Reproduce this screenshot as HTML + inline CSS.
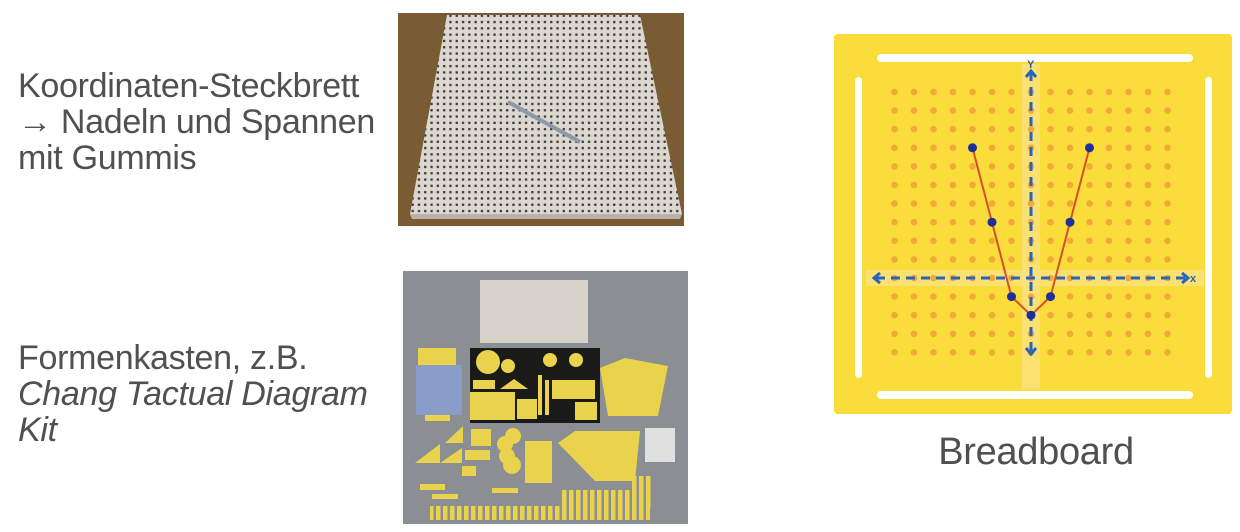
<!DOCTYPE html>
<html><head><meta charset="utf-8"><style>
html,body{margin:0;padding:0;background:#fff;}
body{width:1240px;height:532px;position:relative;overflow:hidden;font-family:"Liberation Sans",sans-serif;}
.t{position:absolute;left:18px;color:#505050;font-size:34px;line-height:36px;letter-spacing:-0.3px;}
svg{position:absolute;left:0;top:0;}
</style></head><body>
<div class="t" style="top:68px">Koordinaten-Steckbrett<br>→ Nadeln und Spannen<br>mit Gummis</div>
<div class="t" style="top:340px">Formenkasten, z.B.<br><i>Chang Tactual Diagram<br>Kit</i></div>
<div class="t" style="left:0;width:2072px;top:434px;font-size:38px;text-align:center;">Breadboard</div>

<svg width="1240" height="532" id="s">
<defs>
<pattern id="holes" width="6.3" height="6.3" patternUnits="userSpaceOnUse"><rect width="6.3" height="6.3" fill="#dcd8d0"/><rect x="2" y="2" width="2.3" height="2.3" fill="#3a3a3a"/></pattern>
<pattern id="sticks" width="7" height="30" patternUnits="userSpaceOnUse"><rect width="7" height="30" fill="#8b8e92"/><rect x="1" width="4.5" height="30" fill="#e9d24c"/></pattern>
</defs>
<g>
<rect x="398" y="13" width="286" height="213" fill="#7a5c34"/>
<polygon points="447,15 640,15 682,214 410,214" fill="url(#holes)"/>
<polygon points="410,214 682,214 680,219 412,219" fill="#b8b2a8"/>
<line x1="508" y1="102" x2="580" y2="142" stroke="#8a9aa8" stroke-width="4"/>
</g>
<g transform="translate(400,268)">
<rect x="3" y="3" width="285" height="253" fill="#8b8e92"/>
<rect x="80" y="12" width="108" height="63" fill="#d6d2ca"/>
<rect x="70" y="80" width="130" height="75" fill="#1a1a18"/>
<g fill="#e9d24c">
<circle cx="88" cy="94" r="12"/><circle cx="108" cy="98" r="7"/>
<rect x="73" y="112" width="22" height="9"/><polygon points="100,121 128,121 114,111"/>
<rect x="70" y="124" width="45" height="28"/><rect x="117" y="131" width="20" height="20"/>
<rect x="152" y="112" width="43" height="19"/><rect x="175" y="134" width="22" height="18"/>
<rect x="138" y="107" width="4" height="40"/><rect x="145" y="112" width="4" height="35"/>
<circle cx="150" cy="92" r="7"/><circle cx="176" cy="92" r="7"/>
<rect x="18" y="80" width="38" height="20"/>
<rect x="25" y="147" width="25" height="6"/>
<polygon points="200,100 225,90 268,98 258,148 208,148"/>
<polygon points="158,175 175,163 240,163 235,213 195,213"/>
<rect x="125" y="173" width="27" height="42"/>
<polygon points="15,195 40,176 40,195"/><polygon points="45,175 63,158 63,175"/><polygon points="40,195 62,180 62,195"/>
<rect x="71" y="161" width="20" height="17"/><rect x="65" y="182" width="25" height="10"/>
<circle cx="113" cy="168" r="8"/><circle cx="105" cy="176" r="8"/><circle cx="107" cy="188" r="8"/><circle cx="112" cy="197" r="9"/>
<rect x="62" y="198" width="14" height="10"/><rect x="92" y="220" width="26" height="5"/>
<rect x="20" y="216" width="25" height="6"/><rect x="32" y="226" width="26" height="5"/>
</g>
<rect x="30" y="238" width="220" height="14" fill="url(#sticks)"/>
<rect x="160" y="222" width="92" height="18" fill="url(#sticks)"/>
<rect x="232" y="208" width="20" height="16" fill="url(#sticks)"/>
<rect x="16" y="97" width="46" height="50" fill="#8a9cc8"/>
<rect x="245" y="160" width="30" height="34" fill="#eeeeee" opacity="0.85"/>
</g>
<g>
<rect x="834" y="34" width="398" height="380" rx="4" fill="#fadc3a"/>
<rect x="877" y="54" width="316" height="8" rx="4" fill="#fff"/>
<rect x="877" y="391" width="316" height="8" rx="4" fill="#fff"/>
<rect x="855" y="77" width="7" height="301" rx="3.5" fill="#fff"/>
<rect x="1205" y="77" width="7" height="301" rx="3.5" fill="#fff"/>
<rect x="1022" y="64" width="18" height="325" fill="#fbe38a" opacity="0.7"/>
<rect x="866" y="270" width="338" height="16" fill="#fbe38a" opacity="0.7"/>
<g id="dots"></g>
<g id="axes" stroke="#2a64b8" stroke-width="3" stroke-dasharray="9,6" fill="none"></g>
<g stroke="#2a64b8" stroke-width="3" fill="none">
<polyline points="880,273 874,278 880,283"/><polyline points="1182,273 1188,278 1182,283"/>
<polyline points="1026,77 1031,71 1036,77"/><polyline points="1026,348 1031,354 1036,348"/>
</g>
<polyline id="band" fill="none" stroke="#d4502a" stroke-width="2"/>
<g id="pins" fill="#1e2f9a"></g>
</g>
</svg>
<script>
const cols=[0,1,2,3,4,5,6,7,8,9,10,11,12,13,14];
const rows=[0,1,2,3,4,5,6,7,8,9,10,11,12,13,14];
const pinX=[-3,-2,-1,0,1,2,3];
const pinY=[7,3,-1,-2,-1,3,7];
const x0=1031,y0=278,st=19.5,sty=18.6;
const gx=v=>x0+v*st, gy=v=>y0-v*sty;
const ns='http://www.w3.org/2000/svg';
const dots=document.getElementById('dots');
cols.forEach(c=>rows.forEach(r=>{
 const e=document.createElementNS(ns,'circle');
 e.setAttribute('cx',gx(c-7));
 e.setAttribute('cy',gy(10-r));
 e.setAttribute('r',3.3);e.setAttribute('fill','#f2a93a');
 
 
 dots.appendChild(e);
}));
const ax=document.getElementById('axes');
ax.innerHTML='<line x1="876" y1="278" x2="1188" y2="278"/><line x1="1031" y1="72" x2="1031" y2="352"/>';
const svg=document.getElementById('s');
const lab=(t,x,y)=>{const e=document.createElementNS(ns,'text');e.textContent=t;e.setAttribute('x',x);e.setAttribute('y',y);e.setAttribute('fill','#2a64b8');e.setAttribute('font-size','11');e.setAttribute('font-weight','bold');e.setAttribute('font-family','Liberation Sans');


svg.appendChild(e);};
lab('Y',1027,68);lab('x',1190,282);
document.getElementById('band').setAttribute('points',pinX.map((p,i)=>gx(p)+','+gy(pinY[i])).join(' '));
const pins=document.getElementById('pins');
pinX.forEach((p,i)=>{const e=document.createElementNS(ns,'circle');
e.setAttribute('cx',gx(p));e.setAttribute('cy',gy(pinY[i]));e.setAttribute('r',4.5);


pins.appendChild(e);});
</script>
</body></html>
